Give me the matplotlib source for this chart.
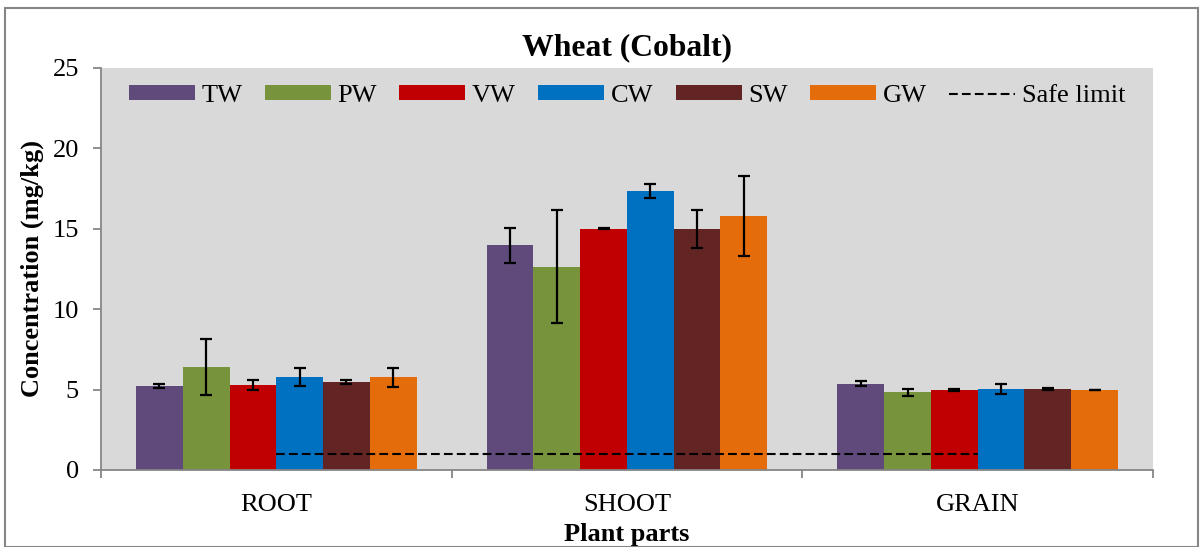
import matplotlib.pyplot as plt
import matplotlib
import numpy as np
from matplotlib.patches import Rectangle

matplotlib.rc('font', family='Liberation Serif', size=19)

parts = ['ROOT', 'SHOOT', 'GRAIN']
series = ['TW', 'PW', 'VW', 'CW', 'SW', 'GW']
colors = ['#604A7B', '#77933C', '#C00000', '#0070C0', '#632523', '#E46C0A']

tw = [5.22, 13.97, 5.37]
pw = [6.38, 12.64, 4.83]
vw = [5.29, 14.99, 4.99]
cw = [5.80, 17.35, 5.04]
sw = [5.49, 14.99, 5.06]
gw = [5.76, 15.82, 4.98]

tw_err = [0.15, 1.09, 0.17]
pw_err = [1.74, 3.50, 0.22]
vw_err = [0.33, 0.03, 0.05]
cw_err = [0.56, 0.42, 0.32]
sw_err = [0.12, 1.20, 0.06]
gw_err = [0.60, 2.49, 0.02]

safe_limit = [1, 1, 1]

values = [tw, pw, vw, cw, sw, gw]
errors = [tw_err, pw_err, vw_err, cw_err, sw_err, gw_err]

fig = plt.figure(figsize=(12.01, 5.47), dpi=100)
ax = fig.add_axes([0.0841, 0.1408, 0.8759, 0.7349])
ax.set_facecolor('#D9D9D9')

x = np.arange(len(parts))
w = 0.8 / len(series)
handles = []
for i, (name, v, e, c) in enumerate(zip(series, values, errors, colors)):
    pos = x - 0.4 + w * (i + 0.5)
    b = ax.bar(pos, v, w, color=c, label=name, zorder=2)
    handles.append(b)
    ax.errorbar(pos, v, yerr=e, fmt='none', ecolor='black', elinewidth=1.6,
                capsize=4.5, capthick=1.6, zorder=3)

line, = ax.plot(x, safe_limit, color='black', linestyle=(0, (4.2, 2)),
                linewidth=1.5, label='Safe limit', zorder=4)
handles.append(line)

ax.set_xlim(-0.5, 2.5)
ax.set_ylim(0, 25)
ax.set_yticks([0, 5, 10, 15, 20, 25])
ax.set_xticks([-0.5, 0.5, 1.5, 2.5])
ax.set_xticklabels([])
ax.set_xticks(x, minor=True)
ax.set_xticklabels(parts, minor=True)
ax.tick_params(axis='x', which='minor', length=0, pad=17)
ax.tick_params(axis='x', which='major', length=6, color='#868686', width=1.3)
ax.tick_params(axis='y', length=6, color='#868686', width=1.3, pad=10)

for s in ['top', 'right']:
    ax.spines[s].set_visible(False)
for s in ['left', 'bottom']:
    ax.spines[s].set_color('#868686')
    ax.spines[s].set_linewidth(1.3)

ax.set_title('Wheat (Cobalt)', fontweight='bold', pad=9)
ax.set_xlabel('Plant parts', fontweight='bold', labelpad=5)
ax.set_ylabel('Concentration (mg/kg)', fontweight='bold', labelpad=6)

ax.legend(handles=handles, loc='upper center', ncol=7, frameon=False,
          handlelength=2.5, handleheight=0.5, handletextpad=0.25,
          columnspacing=0.85, bbox_to_anchor=(0.5, 1.0), borderaxespad=0.25)

fig.patches.append(Rectangle((5 / 1201, 0), 1193 / 1201, 539 / 547,
                             transform=fig.transFigure, fill=False,
                             edgecolor='#868686', linewidth=1.5))

fig.savefig('out.png')
